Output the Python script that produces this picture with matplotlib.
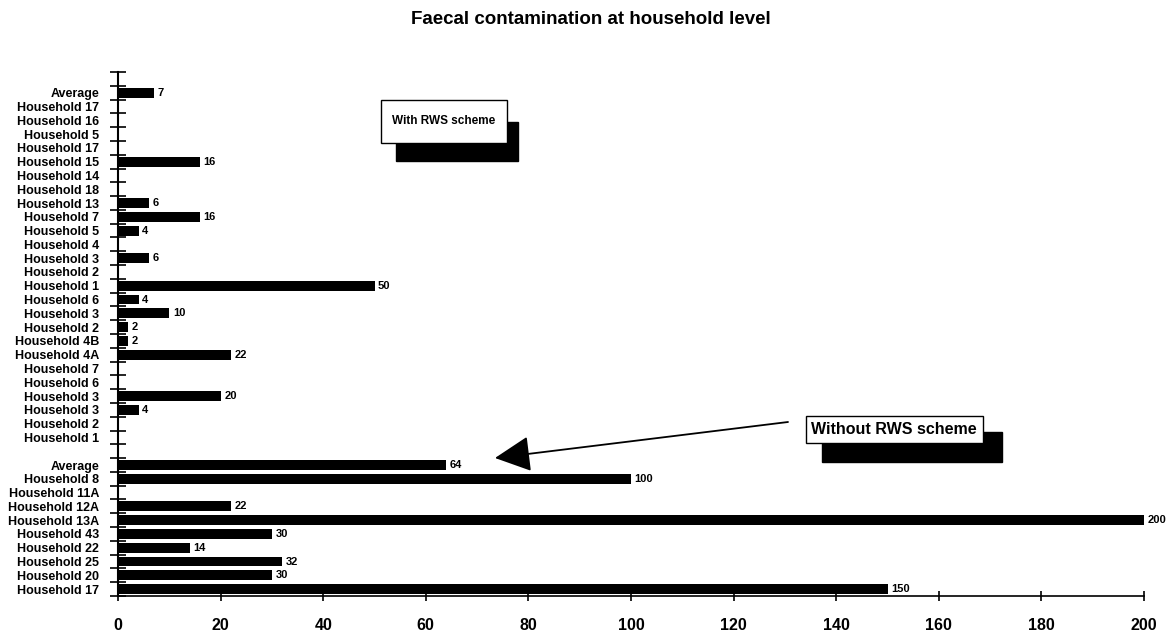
import numpy as np
import matplotlib
matplotlib.use("Agg")
import matplotlib.pyplot as plt
from matplotlib.patches import Rectangle

plt.rcParams['font.family'] = ['Liberation Sans', 'DejaVu Sans']

# households with the RWS scheme (top block, read top to bottom)
with_labels = ['Average', 'Household 17', 'Household 16', 'Household 5', 'Household 17',
               'Household 15', 'Household 14', 'Household 18', 'Household 13', 'Household 7',
               'Household 5', 'Household 4', 'Household 3', 'Household 2', 'Household 1',
               'Household 6', 'Household 3', 'Household 2', 'Household 4B', 'Household 4A',
               'Household 7', 'Household 6', 'Household 3', 'Household 3', 'Household 2',
               'Household 1']
with_values = [7, np.nan, np.nan, np.nan, np.nan, 16, np.nan, np.nan, 6, 16,
               4, np.nan, 6, np.nan, 50, 4, 10, 2, 2, 22,
               np.nan, np.nan, 20, 4, np.nan, np.nan]

# households without the RWS scheme (bottom block)
without_labels = ['Average', 'Household 8', 'Household 11A', 'Household 12A', 'Household 13A',
                  'Household 43', 'Household 22', 'Household 25', 'Household 20', 'Household 17']
without_values = [64, 100, np.nan, 22, 200, 30, 14, 32, 30, 150]

xticks = [0, 20, 40, 60, 80, 100, 120, 140, 160, 180, 200]

labels = with_labels + [''] + without_labels
values = with_values + [np.nan] + without_values
pos = np.arange(len(labels))

W, H = 1174, 636
fig = plt.figure(figsize=(W / 100, H / 100), dpi=100)
ax = fig.add_axes([118 / W, 1 - 596 / H, 1026 / W, 524 / H])

ax.barh(pos, np.nan_to_num(values), height=0.72, color='black')
for p, v in zip(pos, values):
    if not np.isnan(v):
        ax.text(v + 0.7, p, '%d' % v, va='center', ha='left', fontsize=8, fontweight='bold')

ax.set_ylim(len(labels) - 0.5, -1.5)
ax.set_xlim(0, 200)
ax.set_yticks(pos)
ax.set_yticklabels(labels, fontsize=9, fontweight='bold')
ax.set_yticks(np.arange(-1.5, len(labels)), minor=True)
ax.tick_params(axis='y', which='major', length=0, pad=13.5)
ax.tick_params(axis='y', which='minor', direction='inout', length=12, width=1.2)
ax.set_xticks(xticks)
ax.set_xticklabels([str(t) for t in xticks], fontsize=11.5, fontweight='bold')
ax.tick_params(axis='x', direction='inout', length=7, width=1.2, pad=12.5)

for s in ['top', 'right']:
    ax.spines[s].set_visible(False)
ax.spines['left'].set_linewidth(1.5)
ax.spines['bottom'].set_linewidth(1.2)

fig.text(591 / W, 1 - 20 / H, 'Faecal contamination at household level',
         ha='center', va='center', fontsize=13.5, fontweight='bold')


def fig_box(x0, y0, x1, y1, **kw):
    # pixel box (top-left origin) -> figure rectangle
    r = Rectangle((x0 / W, 1 - y1 / H), (x1 - x0) / W, (y1 - y0) / H,
                  transform=fig.transFigure, **kw)
    fig.add_artist(r)


# "With RWS scheme" label with drop shadow
fig_box(396, 122, 518, 161, facecolor='black', edgecolor='black')
fig_box(381, 100, 507, 143, facecolor='white', edgecolor='black', lw=1)
fig.text(444 / W, 1 - 121 / H, 'With RWS scheme', ha='center', va='center',
         fontsize=8.5, fontweight='bold')

# "Without RWS scheme" label with drop shadow and arrow
fig_box(822, 432, 1002, 462, facecolor='black', edgecolor='black')
fig_box(806, 416, 983, 443, facecolor='white', edgecolor='black', lw=1)
fig.text(894 / W, 1 - 430 / H, 'Without RWS scheme', ha='center', va='center',
         fontsize=11.5, fontweight='bold')
ax.annotate('', xy=(495 / W, 1 - 458 / H), xycoords='figure fraction',
            xytext=(788 / W, 1 - 422 / H), textcoords='figure fraction',
            arrowprops=dict(arrowstyle='-|>,head_length=0.8,head_width=0.4',
                            color='black', lw=1.3,
                            mutation_scale=28, shrinkA=0, shrinkB=0))

fig.savefig('out.png', dpi=100, facecolor='white')
